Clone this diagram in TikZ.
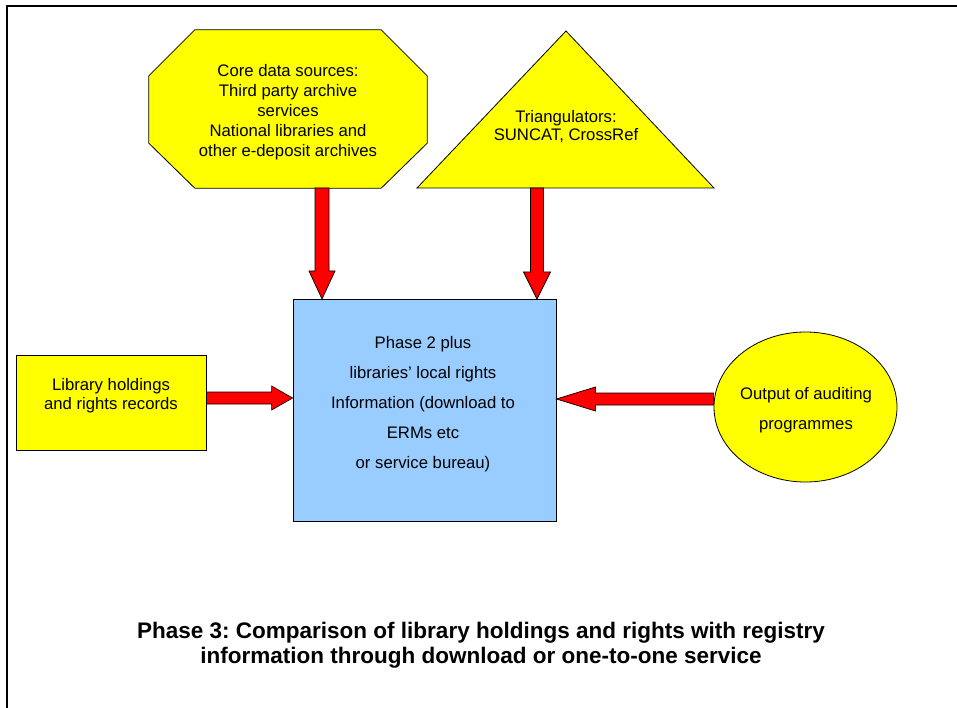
\documentclass[tikz,border=0pt]{standalone}
\usepackage{fontspec}
\setmainfont{Liberation Sans}
\frenchspacing
\usetikzlibrary{calc,shapes.geometric}
\definecolor{shapeyellow}{HTML}{FFFF00}
\definecolor{boxblue}{HTML}{99CCFF}
\definecolor{arrowred}{HTML}{FF0000}
\tikzset{
  shapeline/.style={draw=black, line width=0.8pt},
  yellowshape/.style={shapeline, fill=shapeyellow},
  txt/.style={align=center, inner sep=0pt, font=\fontsize{16.7}{#1}\selectfont},
  arrowstyle/.style={draw=black, line width=0.7pt, fill=arrowred, line join=miter},
}
\newcommand\blockarr[5]{%
  \coordinate (hb) at ($(#2)!#5!(#1)$);
  \draw[arrowstyle] ($(#1)!#3!90:(#2)$) -- ($(hb)!#3!90:(#2)$) -- ($(hb)!#4!90:(#2)$)
    -- (#2) -- ($(hb)!#4!-90:(#2)$) -- ($(hb)!#3!-90:(#2)$) -- ($(#1)!#3!-90:(#2)$) -- cycle;
}
\begin{document}
\begin{tikzpicture}[x=1pt, y=-1pt]
\useasboundingbox (0,0) rectangle (957,708);
\fill[white] (0,0) rectangle (957,708);
% frame
\draw[line width=1.3pt] (7,710) -- (7,6) -- (960,6);

% octagon
\node[minimum width=278pt, minimum height=158pt, inner sep=0pt] (oct) at (288,109) {};
\draw[yellowshape] ($(oct.north west)+(46,0)$) -- ($(oct.north east)+(-46,0)$)
  -- ($(oct.north east)+(0,46)$) -- ($(oct.south east)+(0,-45)$)
  -- ($(oct.south east)+(-46,0)$) -- ($(oct.south west)+(46,0)$)
  -- ($(oct.south west)+(0,-45)$) -- ($(oct.north west)+(0,46)$) -- cycle;
\node[txt=20pt] (octtext) at (288,112) {Core data sources:\\Third party archive\\services\\National libraries and\\other e-deposit archives};

% triangle
\coordinate (triapex) at (566,31);
\coordinate (trileft) at (417,188);
\coordinate (triright) at (714,188);
\draw[yellowshape] (triapex) -- (triright) -- (trileft) -- cycle;
\node[txt=18.5pt] (tritext) at (566,126.5) {Triangulators:\\SUNCAT, CrossRef};

% central box
\node[shapeline, fill=boxblue, minimum width=263pt, minimum height=222pt, inner sep=0pt] (box) at (424.5,410) {};
\node[txt=30pt] (boxtext) at (423,404) {Phase 2 plus\\libraries’ local rights\\Information (download to\\ERMs etc\\or service bureau)};

% library box
\node[yellowshape, minimum width=190pt, minimum height=95pt, inner sep=0pt] (lib) at (111,402.5) {};
\node[txt=19pt] (libtext) at (111,396) {Library holdings\\and rights records};

% ellipse
\node[yellowshape, ellipse, minimum width=183pt, minimum height=150pt, inner sep=0pt] (aud) at (805.5,407) {};
\node[txt=30pt] (audtext) at (806,410) {Output of auditing\\programmes};

% arrows
\coordinate (a1t) at (322,188);
\coordinate (a1h) at (322,299);
\blockarr{a1t}{a1h}{7pt}{13pt}{28pt}
\coordinate (a2t) at (537,188);
\coordinate (a2h) at (537,299);
\blockarr{a2t}{a2h}{6.5pt}{13.5pt}{27pt}
\coordinate (a3t) at (lib.east |- 0,398);
\coordinate (a3h) at (box.west |- 0,398);
\blockarr{a3t}{a3h}{6pt}{12pt}{21pt}
\coordinate (a4t) at (aud.west |- 0,399);
\coordinate (a4h) at (box.east |- 0,399);
\blockarr{a4t}{a4h}{6pt}{12pt}{39pt}

% caption
\node[align=center, inner sep=0pt, font=\bfseries\fontsize{22.5}{25}\selectfont] (caption) at (481,645.5) {Phase 3: Comparison of library holdings and rights with registry\\information through download or one-to-one service};
\end{tikzpicture}
\end{document}
